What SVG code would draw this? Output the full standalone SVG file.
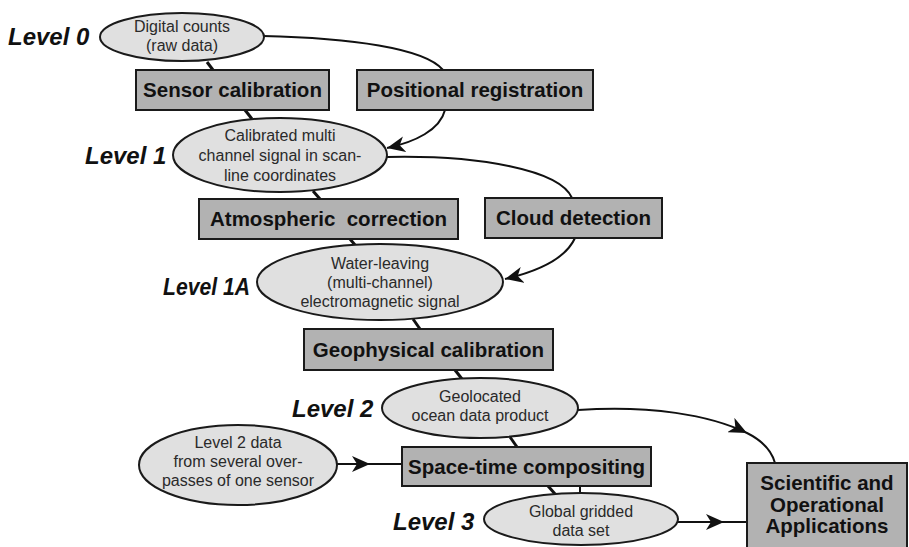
<svg xmlns="http://www.w3.org/2000/svg" width="909" height="547" viewBox="0 0 909 547">
  <style>
    .ell { fill: #e0e0e0; stroke: #1a1a1a; stroke-width: 2; }
    .box { fill: #b2b2b2; stroke: #1a1a1a; stroke-width: 2; }
    .et { font-family: "Liberation Sans", Arial, sans-serif; font-size: 16px; fill: #2a2a2a; text-anchor: middle; }
    .bt { font-family: "Liberation Sans", Arial, sans-serif; font-size: 20.5px; font-weight: bold; fill: #111; text-anchor: middle; }
    .lvl { font-family: "Liberation Sans", Arial, sans-serif; font-size: 24px; font-weight: bold; font-style: italic; fill: #111; }
    .link { fill: none; stroke: #111; stroke-width: 3; }
    .flow { fill: none; stroke: #111; stroke-width: 2; }
  </style>
  <defs>
    <marker id="arrow" markerUnits="userSpaceOnUse" markerWidth="20" markerHeight="16" refX="18" refY="8" orient="auto">
      <path d="M0,0 L18,8 L0,16 L5,8 z" fill="#111"/>
    </marker>
  </defs>
  <rect width="909" height="547" fill="#ffffff"/>

  <!-- connectors -->
  <g id="connectors">
    <line class="link" x1="207" y1="62" x2="213" y2="70"/>
    <line class="link" x1="245" y1="110" x2="252" y2="119"/>
    <line class="link" x1="313" y1="191" x2="320" y2="199"/>
    <line class="link" x1="350" y1="239" x2="355" y2="245"/>
    <line class="link" x1="413" y1="319" x2="420" y2="329"/>
    <line class="link" x1="455" y1="370" x2="462" y2="379"/>
    <line class="link" x1="510" y1="437" x2="517" y2="447"/>
    <line class="link" x1="548" y1="486" x2="556" y2="495"/>
    <line class="flow" x1="580" y1="486" x2="580" y2="494"/>
    <path class="flow" d="M263,36 C350,38 425,48 443,70"/>
    <path class="flow" d="M445,110 C440,130 415,142 387,148" marker-end="url(#arrow)"/>
    <path class="flow" d="M387,157 C480,155 560,170 572,198"/>
    <path class="flow" d="M575,238 C565,260 535,272 505,279" marker-end="url(#arrow)"/>
    <path class="flow" d="M578,410 C650,405 710,415 747,433 C763,441 772,452 775,463" marker-mid="url(#arrow)"/>
    <path class="flow" d="M337,464 L370,464 L402,464" marker-mid="url(#arrow)"/>
    <path class="flow" d="M678,522 L724,522 L747,522" marker-mid="url(#arrow)"/>
  </g>

  <!-- level labels -->
  <g id="levels">
    <text class="lvl" x="8" y="45">Level 0</text>
    <text class="lvl" x="85" y="164">Level 1</text>
    <text class="lvl" x="163" y="295" textLength="87" lengthAdjust="spacingAndGlyphs">Level 1A</text>
    <text class="lvl" x="292" y="417">Level 2</text>
    <text class="lvl" x="393" y="530">Level 3</text>
  </g>

  <g id="digital-counts">
    <ellipse class="ell" cx="182" cy="37" rx="82" ry="24"/>
    <text class="et" x="182" y="32">Digital counts</text>
    <text class="et" x="182" y="51">(raw data)</text>
  </g>

  <g id="sensor-calibration">
    <rect class="box" x="136" y="70" width="193" height="40"/>
    <text class="bt" x="232.5" y="97">Sensor calibration</text>
  </g>

  <g id="positional-registration">
    <rect class="box" x="357" y="70" width="236" height="40"/>
    <text class="bt" x="475" y="97">Positional registration</text>
  </g>

  <g id="calibrated-signal">
    <ellipse class="ell" cx="280" cy="155" rx="107" ry="37"/>
    <text class="et" x="280" y="141">Calibrated multi</text>
    <text class="et" x="280" y="161">channel signal in scan-</text>
    <text class="et" x="280" y="181">line coordinates</text>
  </g>

  <g id="atmospheric-correction">
    <rect class="box" x="199" y="199" width="259" height="40"/>
    <text class="bt" x="328.5" y="226" xml:space="preserve">Atmospheric  correction</text>
  </g>

  <g id="cloud-detection">
    <rect class="box" x="485" y="198" width="177" height="40"/>
    <text class="bt" x="573.5" y="225">Cloud detection</text>
  </g>

  <g id="water-leaving">
    <ellipse class="ell" cx="380" cy="282" rx="123" ry="38"/>
    <text class="et" x="380" y="269">Water-leaving</text>
    <text class="et" x="380" y="288">(multi-channel)</text>
    <text class="et" x="380" y="307">electromagnetic signal</text>
  </g>

  <g id="geophysical-calibration">
    <rect class="box" x="304" y="329" width="249" height="41"/>
    <text class="bt" x="428.5" y="357">Geophysical calibration</text>
  </g>

  <g id="geolocated-product">
    <ellipse class="ell" cx="480" cy="408" rx="98" ry="30"/>
    <text class="et" x="480" y="402">Geolocated</text>
    <text class="et" x="480" y="421">ocean data product</text>
  </g>

  <g id="overpasses">
    <ellipse class="ell" cx="238" cy="465" rx="99" ry="40"/>
    <text class="et" x="238" y="448">Level 2 data</text>
    <text class="et" x="238" y="467">from several over-</text>
    <text class="et" x="238" y="486">passes of one sensor</text>
  </g>

  <g id="space-time-compositing">
    <rect class="box" x="402" y="447" width="249" height="39"/>
    <text class="bt" x="526.5" y="474">Space-time compositing</text>
  </g>

  <g id="global-gridded">
    <ellipse class="ell" cx="581" cy="519" rx="97" ry="26"/>
    <text class="et" x="581" y="517">Global gridded</text>
    <text class="et" x="581" y="536">data set</text>
  </g>

  <g id="applications">
    <rect class="box" x="747" y="463" width="160" height="100"/>
    <text class="bt" x="827" y="490">Scientific and</text>
    <text class="bt" x="827" y="512">Operational</text>
    <text class="bt" x="827" y="533">Applications</text>
  </g>
</svg>
